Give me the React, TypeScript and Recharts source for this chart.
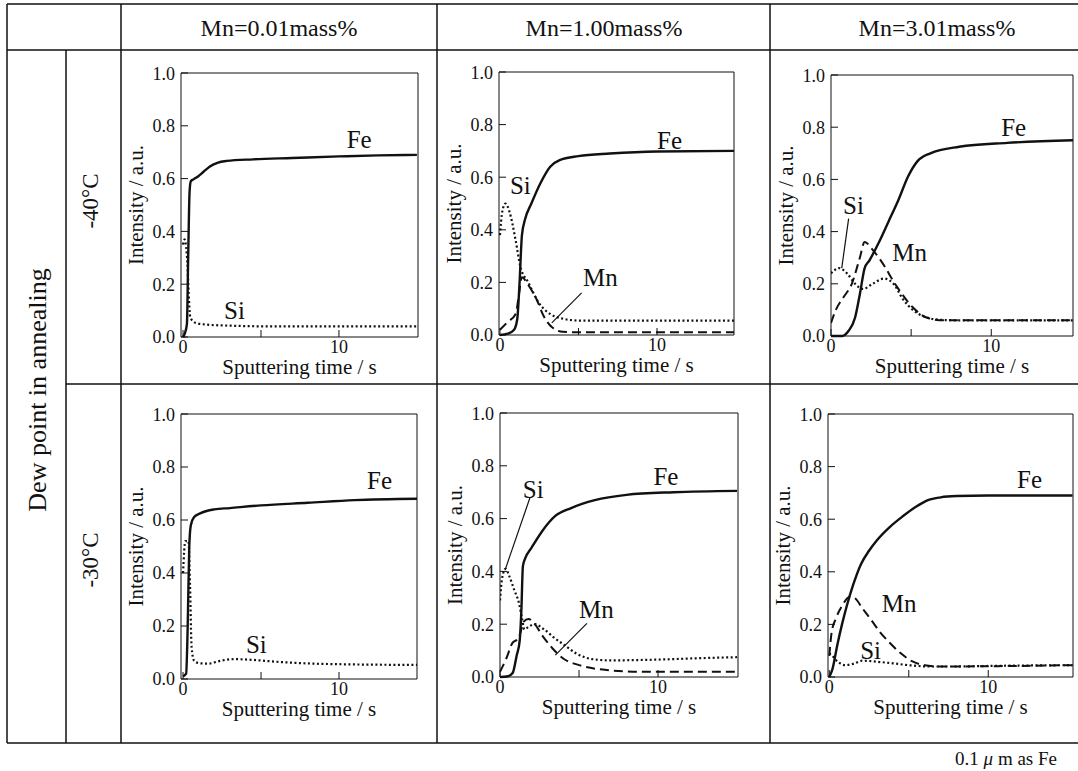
import React from 'react';
import { LineChart, Line, XAxis, YAxis, ReferenceLine, ReferenceDot } from 'recharts';

type Pt = [number, number];

const FONT = '"Liberation Serif", "DejaVu Serif", serif';
const INK = '#111';

// column / row headings
const columnTitles = ['Mn=0.01mass%', 'Mn=1.00mass%', 'Mn=3.01mass%'];
const rowTitles = ['-40°C', '-30°C'];
const xTicks = [0, 5, 10];
const yTicks = [0, 0.2, 0.4, 0.6, 0.8, 1.0];

// [time (s), intensity (a.u.)]
// Mn=0.01, -40°C
const fe1: Pt[] = [[0, 0], [0.12, 0.015], [0.25, 0.05], [0.33, 0.3], [0.42, 0.55], [0.5, 0.59], [0.7, 0.598], [1, 0.61], [1.3, 0.625], [1.7, 0.645], [2.2, 0.66], [2.8, 0.667], [4.5, 0.673], [7, 0.678], [10, 0.684], [12.5, 0.688], [15, 0.69]];
const si1: Pt[] = [[0, 0.35], [0.1, 0.37], [0.2, 0.34], [0.28, 0.28], [0.36, 0.17], [0.45, 0.08], [0.6, 0.062], [0.9, 0.052], [1.5, 0.047], [3, 0.043], [6, 0.04], [10, 0.04], [15, 0.04]];
// Mn=1.00, -40°C
const fe2: Pt[] = [[0, 0], [0.5, 0.005], [0.9, 0.02], [1.1, 0.06], [1.25, 0.2], [1.4, 0.38], [1.6, 0.44], [2, 0.5], [2.6, 0.58], [3.2, 0.64], [3.8, 0.665], [5, 0.68], [7, 0.69], [10, 0.698], [14.9, 0.7]];
const si2: Pt[] = [[0, 0.38], [0.15, 0.47], [0.35, 0.5], [0.6, 0.47], [1.0, 0.36], [1.3, 0.26], [1.8, 0.2], [2.5, 0.12], [3.2, 0.08], [4, 0.062], [5, 0.055], [8, 0.055], [14.9, 0.055]];
const mn2: Pt[] = [[0, 0.02], [0.5, 0.05], [1, 0.08], [1.2, 0.15], [1.4, 0.22], [1.8, 0.19], [2.3, 0.14], [2.8, 0.07], [3.3, 0.03], [4, 0.012], [5, 0.01], [14.9, 0.01]];
// Mn=3.01, -40°C
const fe3: Pt[] = [[0, 0], [0.7, 0], [1.1, 0.02], [1.5, 0.07], [1.8, 0.16], [2.1, 0.26], [2.4, 0.29], [3, 0.36], [3.6, 0.44], [4.2, 0.52], [4.8, 0.61], [5.4, 0.67], [6.2, 0.7], [8, 0.725], [11, 0.74], [15.1, 0.75]];
const si3: Pt[] = [[0, 0.24], [0.5, 0.26], [1, 0.24], [1.5, 0.2], [2, 0.18], [2.6, 0.2], [3.3, 0.22], [3.9, 0.2], [4.5, 0.14], [5.1, 0.1], [5.8, 0.075], [6.8, 0.062], [8, 0.06], [15.1, 0.06]];
const mn3: Pt[] = [[0, 0.05], [0.3, 0.1], [0.8, 0.15], [1.3, 0.2], [1.8, 0.3], [2.1, 0.36], [2.6, 0.33], [3.1, 0.29], [4.1, 0.19], [5.1, 0.11], [6, 0.07], [7, 0.06], [15.1, 0.06]];
// Mn=0.01, -30°C
const fe4: Pt[] = [[0, 0.01], [0.2, 0.02], [0.3, 0.2], [0.4, 0.5], [0.5, 0.58], [0.7, 0.61], [1.1, 0.625], [2, 0.64], [3, 0.645], [5, 0.655], [8, 0.665], [11, 0.675], [15, 0.68]];
const si4: Pt[] = [[0, 0.4], [0.15, 0.52], [0.35, 0.52], [0.45, 0.35], [0.55, 0.12], [0.7, 0.07], [1, 0.06], [1.6, 0.058], [2.5, 0.07], [3.3, 0.075], [4.5, 0.072], [6, 0.065], [9, 0.057], [15, 0.053]];
// Mn=1.00, -30°C
const fe5: Pt[] = [[0, 0], [0.5, 0.003], [0.8, 0.015], [1.05, 0.08], [1.25, 0.14], [1.35, 0.25], [1.45, 0.42], [1.6, 0.45], [2, 0.49], [2.7, 0.555], [3.5, 0.61], [4.5, 0.64], [6, 0.67], [8, 0.69], [11, 0.7], [15, 0.705]];
const si5: Pt[] = [[0, 0.29], [0.15, 0.38], [0.35, 0.41], [0.6, 0.38], [0.9, 0.33], [1.2, 0.28], [1.4, 0.22], [1.55, 0.18], [1.8, 0.19], [2.2, 0.2], [2.8, 0.18], [3.4, 0.15], [4.1, 0.12], [4.8, 0.09], [5.8, 0.068], [7, 0.063], [10, 0.066], [13, 0.072], [15, 0.075]];
const mn5: Pt[] = [[0, 0.02], [0.4, 0.07], [0.8, 0.13], [1.15, 0.145], [1.3, 0.17], [1.5, 0.21], [1.8, 0.22], [2.2, 0.2], [2.7, 0.155], [3.3, 0.11], [4, 0.07], [5, 0.045], [6.5, 0.028], [9, 0.02], [15, 0.02]];
// Mn=3.01, -30°C
const fe6: Pt[] = [[0, 0], [0.2, 0.03], [0.5, 0.12], [0.8, 0.2], [1.1, 0.27], [1.5, 0.35], [2, 0.43], [2.5, 0.48], [3, 0.52], [3.8, 0.57], [4.6, 0.61], [5.4, 0.645], [6.1, 0.67], [7, 0.683], [8, 0.688], [10, 0.69], [15.3, 0.69]];
const si6: Pt[] = [[0, 0.09], [0.2, 0.08], [0.5, 0.06], [1, 0.045], [1.5, 0.05], [2.1, 0.062], [3, 0.058], [4, 0.052], [5, 0.045], [6.3, 0.04], [8, 0.04], [10, 0.042], [15.3, 0.045]];
const mn6: Pt[] = [[0, 0.08], [0.15, 0.17], [0.4, 0.22], [0.8, 0.27], [1.3, 0.305], [1.6, 0.3], [2.1, 0.26], [2.6, 0.22], [3.2, 0.17], [3.8, 0.13], [4.5, 0.09], [5.2, 0.06], [6, 0.045], [7, 0.04], [15.3, 0.045]];

type Tag = { text: string; x: number; y: number };
type Seg = [number, number, number, number];

type PanelDef = {
  box: [number, number, number, number];
  xMin: number;
  xMax: number;
  fe: Pt[];
  si: Pt[];
  mn?: Pt[];
  tags: Tag[];
  leaders: Seg[];
};

const panels: PanelDef[] = [
  { box: [181, 73, 418, 337], xMin: -0.13, xMax: 15.07, fe: fe1, si: si1,
    tags: [{ text: 'Fe', x: 11.3, y: 0.75 }, { text: 'Si', x: 3.3, y: 0.1 }], leaders: [] },
  { box: [499, 72, 734, 335], xMin: -0.06, xMax: 14.9, fe: fe2, si: si2, mn: mn2,
    tags: [{ text: 'Fe', x: 10.8, y: 0.74 }, { text: 'Si', x: 1.3, y: 0.57 }, { text: 'Mn', x: 6.4, y: 0.22 }],
    leaders: [[5.2, 0.16, 3.3, 0.046]] },
  { box: [831, 75, 1073, 336], xMin: 0, xMax: 15.1, fe: fe3, si: si3, mn: mn3,
    tags: [{ text: 'Fe', x: 11.4, y: 0.8 }, { text: 'Si', x: 1.4, y: 0.5 }, { text: 'Mn', x: 4.9, y: 0.32 }],
    leaders: [[1.1, 0.45, 0.67, 0.26]] },
  { box: [181, 414, 417, 679], xMin: -0.13, xMax: 15.0, fe: fe4, si: si4,
    tags: [{ text: 'Fe', x: 12.6, y: 0.75 }, { text: 'Si', x: 4.7, y: 0.13 }], leaders: [] },
  { box: [500, 413, 738, 677], xMin: 0, xMax: 15.06, fe: fe5, si: si5, mn: mn5,
    tags: [{ text: 'Fe', x: 10.5, y: 0.76 }, { text: 'Si', x: 2.1, y: 0.71 }, { text: 'Mn', x: 6.1, y: 0.254 }],
    leaders: [[1.9, 0.68, 0.32, 0.405], [5.5, 0.203, 3.5, 0.083]] },
  { box: [828, 414, 1073, 677], xMin: -0.08, xMax: 15.33, fe: fe6, si: si6, mn: mn6,
    tags: [{ text: 'Fe', x: 12.6, y: 0.75 }, { text: 'Mn', x: 4.4, y: 0.28 }, { text: 'Si', x: 2.6, y: 0.1 }],
    leaders: [] },
];

const rows = (pts: Pt[], key: string) => pts.map(([t, v]) => ({ t, [key]: v }));

const ML = 60;
const MT = 10;
const MR = 4;
const MB = 50;

function Panel({ p }: { p: PanelDef }) {
  const [x0, y0, x1, y1] = p.box;
  const width = x1 - x0 + ML + MR;
  const height = y1 - y0 + MT + MB;
  const tagSize = 25;

  return (
    <div style={{ position: 'absolute', left: x0 - ML, top: y0 - MT }}>
      <LineChart width={width} height={height} margin={{ top: MT, right: MR, bottom: 0, left: 0 }}>
        <XAxis
          type="number"
          dataKey="t"
          domain={[p.xMin, p.xMax]}
          allowDataOverflow
          ticks={xTicks}
          tickFormatter={(v: number) => (v === 5 ? '' : String(v))}
          height={MB}
          tickSize={-7}
          tickMargin={10}
          stroke={INK}
          tick={{ fill: INK, fontSize: 18, fontFamily: FONT }}
          label={{ value: 'Sputtering time / s', position: 'insideBottom', offset: 13, fontSize: 21, fill: INK, fontFamily: FONT }}
        />
        <YAxis
          type="number"
          domain={[0, 1]}
          ticks={yTicks}
          tickFormatter={(v: number) => v.toFixed(1)}
          width={ML}
          tickSize={-7}
          tickMargin={13}
          stroke={INK}
          tick={{ fill: INK, fontSize: 18, fontFamily: FONT }}
          label={{ value: 'Intensity / a.u.', angle: -90, position: 'insideLeft', offset: 15, fontSize: 21, fill: INK, fontFamily: FONT, style: { textAnchor: 'middle' } }}
        />
        <ReferenceLine y={1} stroke={INK} />
        <ReferenceLine x={p.xMax} stroke={INK} />

        {p.mn && (
          <Line data={rows(p.mn, 'mn')} dataKey="mn" type="monotone" stroke={INK} strokeWidth={2} strokeDasharray="9 5" dot={false} isAnimationActive={false} />
        )}
        <Line data={rows(p.si, 'si')} dataKey="si" type="monotone" stroke={INK} strokeWidth={2.2} strokeDasharray="2 2.5" dot={false} isAnimationActive={false} />
        <Line data={rows(p.fe, 'fe')} dataKey="fe" type="monotone" stroke={INK} strokeWidth={2.4} dot={false} isAnimationActive={false} />

        {p.leaders.map((s, i) => (
          <ReferenceLine key={`ld-${i}`} segment={[{ x: s[0], y: s[1] }, { x: s[2], y: s[3] }]} stroke={INK} strokeWidth={1.2} />
        ))}
        {p.tags.map((tg) => (
          <ReferenceDot
            key={tg.text}
            x={tg.x}
            y={tg.y}
            r={0}
            shape={(props: any) => (
              <text x={props.cx} y={props.cy + tagSize * 0.34} textAnchor="middle" fontSize={tagSize} fontFamily={FONT} fill={INK}>
                {tg.text}
              </text>
            )}
          />
        ))}
      </LineChart>
    </div>
  );
}

// table frame
const colX = [121, 437, 770];
const headerY = 50;
const rowY = 384;
const bottomY = 743;

export default function App() {
  return (
    <div style={{ position: 'absolute', left: 0, top: 0, width: 1078, height: 771, overflow: 'hidden', background: '#fff', fontFamily: FONT }}>
      <svg width={1078} height={771} style={{ position: 'absolute', left: 0, top: 0 }} fontFamily={FONT}>
        <g stroke={INK} strokeWidth={1.5}>
          <line x1={7} y1={4} x2={1078} y2={4} />
          <line x1={7} y1={headerY} x2={1078} y2={headerY} />
          <line x1={66} y1={rowY} x2={1078} y2={rowY} />
          <line x1={7} y1={bottomY} x2={1078} y2={bottomY} />
          <line x1={7} y1={4} x2={7} y2={bottomY} />
          <line x1={66} y1={headerY} x2={66} y2={bottomY} />
          {colX.map((x) => (
            <line key={x} x1={x} y1={4} x2={x} y2={bottomY} />
          ))}
        </g>
        <g fill={INK} fontSize={24} textAnchor="middle">
          <text x={279} y={36}>{columnTitles[0]}</text>
          <text x={604} y={36}>{columnTitles[1]}</text>
          <text x={937} y={36}>{columnTitles[2]}</text>
        </g>
        <g fill={INK} fontSize={23} textAnchor="middle">
          <text transform="translate(98,201) rotate(-90)">{rowTitles[0]}</text>
          <text transform="translate(98,560) rotate(-90)">{rowTitles[1]}</text>
        </g>
        <text transform="translate(46,390) rotate(-90)" fill={INK} fontSize={26} textAnchor="middle">
          Dew point in annealing
        </text>
        <text x={1057} y={765} fill={INK} fontSize={19} textAnchor="end">
          0.1 <tspan fontStyle="italic">μ</tspan> m as Fe
        </text>
      </svg>
      {panels.map((p, i) => (
        <Panel key={i} p={p} />
      ))}
    </div>
  );
}
